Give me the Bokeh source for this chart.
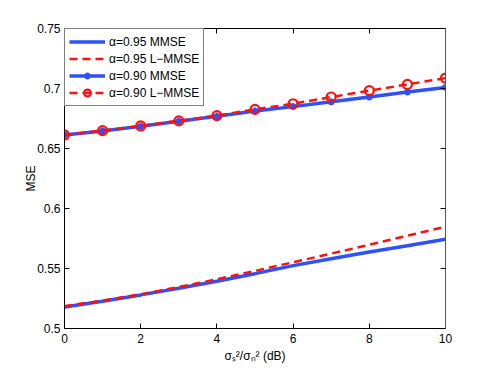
from bokeh.plotting import figure
from bokeh.models import Range1d, FixedTicker, LinearAxis, Legend, LegendItem, CustomJSTickFormatter
from bokeh.embed import file_html
from bokeh.resources import INLINE

snr_db = [0, 1, 2, 3, 4, 5, 6, 7, 8, 9, 10]
mmse_095 = [0.5180, 0.5227, 0.5280, 0.5335, 0.5394, 0.5457, 0.5524, 0.5582, 0.5637, 0.5690, 0.5743]
lmmse_095 = [0.5186, 0.5233, 0.5285, 0.5346, 0.5410, 0.5480, 0.5552, 0.5624, 0.5698, 0.5773, 0.5848]
mmse_090 = [0.6613, 0.6646, 0.6685, 0.6727, 0.6768, 0.6812, 0.6849, 0.6890, 0.6929, 0.6970, 0.7009]
lmmse_090 = [0.6613, 0.6649, 0.6688, 0.6730, 0.6774, 0.6826, 0.6873, 0.6929, 0.6982, 0.7034, 0.7087]

x_ticks = [0, 2, 4, 6, 8, 10]
y_ticks = [0.5, 0.55, 0.6, 0.65, 0.7, 0.75]
y_tick_labels = {0.5: "0.5", 0.55: "0.55", 0.6: "0.6", 0.65: "0.65", 0.7: "0.7", 0.75: "0.75"}
labels = ["α=0.95 MMSE", "α=0.95 L−MMSE", "α=0.90 MMSE", "α=0.90 L−MMSE"]

BLUE = "#2f50fa"
RED = "#ff1010"
FONT = "Liberation Sans"

p = figure(frame_width=381, frame_height=300, output_backend="svg", toolbar_location=None,
           x_range=Range1d(0, 10), y_range=Range1d(0.5, 0.75),
           min_border_left=64, min_border_right=45, min_border_top=28, min_border_bottom=41)
p.outline_line_color = None
p.grid.visible = False
p.background_fill_color = "white"
p.border_fill_color = "white"

for ax in (p.xaxis[0], p.yaxis[0]):
    ax.major_tick_in = 5
    ax.major_tick_out = 0
    ax.minor_tick_line_color = None
    ax.axis_line_color = "black"
    ax.major_tick_line_color = "black"
    ax.major_label_text_font = FONT
    ax.major_label_text_font_size = "12px"
    ax.major_label_text_color = "black"
    ax.axis_label_text_font = FONT
    ax.axis_label_text_font_size = "12px"
    ax.axis_label_text_font_style = "normal"
    ax.axis_label_text_color = "black"

p.xaxis.ticker = FixedTicker(ticks=x_ticks)
p.yaxis.ticker = FixedTicker(ticks=y_ticks)
p.yaxis.major_label_overrides = y_tick_labels
p.xaxis.major_label_standoff = 5
p.yaxis.major_label_standoff = 4
p.xaxis.axis_label = "σₛ²/σₙ² (dB)"
p.yaxis.axis_label = "MSE"
p.xaxis.axis_label_standoff = 3
p.yaxis.axis_label_standoff = -4

blank = CustomJSTickFormatter(code="return '';")
top = LinearAxis(ticker=FixedTicker(ticks=x_ticks), major_tick_in=5, major_tick_out=0,
                 minor_tick_line_color=None, formatter=blank, major_label_standoff=0,
                 axis_line_color="black")
right = LinearAxis(ticker=FixedTicker(ticks=y_ticks), major_tick_in=5, major_tick_out=0,
                   minor_tick_line_color=None, formatter=blank, major_label_standoff=0,
                   axis_line_color="#555555")
p.add_layout(top, "above")
p.add_layout(right, "right")

r1 = p.line(snr_db, mmse_095, line_color=BLUE, line_width=3.5)
r2 = p.line(snr_db, lmmse_095, line_color=RED, line_width=2.5, line_dash="8 5")
r3 = p.line(snr_db, mmse_090, line_color=BLUE, line_width=3.5)
r3m = p.scatter(snr_db, mmse_090, marker="asterisk", size=7, line_color=BLUE, line_width=2)
r4 = p.line(snr_db, lmmse_090, line_color=RED, line_width=2.5, line_dash="8 5")
r4m = p.scatter(snr_db, lmmse_090, marker="circle", size=9, line_color=RED, line_width=2.2,
                fill_color=None)

legend = Legend(items=[
    LegendItem(label=labels[0], renderers=[r1]),
    LegendItem(label=labels[1], renderers=[r2]),
    LegendItem(label=labels[2], renderers=[r3, r3m]),
    LegendItem(label=labels[3], renderers=[r4, r4m]),
], location="top_left")
legend.margin = 0
legend.padding = 4
legend.spacing = 0
legend.glyph_width = 36
legend.glyph_height = 17
legend.label_height = 17
legend.label_standoff = 4
legend.label_text_font = FONT
legend.label_text_font_size = "12px"
legend.label_text_color = "black"
legend.border_line_color = "black"
legend.border_line_width = 1
legend.background_fill_color = "white"
legend.background_fill_alpha = 1.0
p.add_layout(legend, "center")

open("out.html", "w").write(file_html(p, INLINE))
